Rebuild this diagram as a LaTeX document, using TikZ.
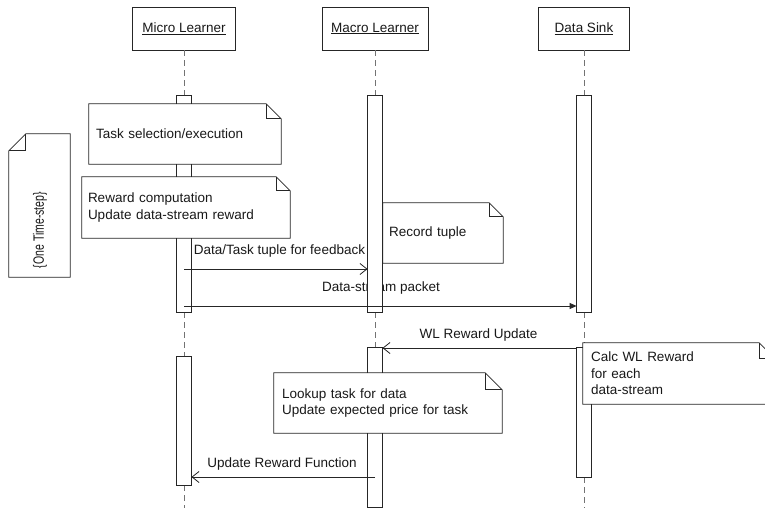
\documentclass[tikz,border=0pt]{standalone}
\usepackage{fontspec}
\setmainfont{Liberation Sans}
\usetikzlibrary{arrows.meta}

\tikzset{
  every node/.style={font=\fontsize{13.5}{16.5}\selectfont, text=black!90},
  head/.style={draw=black!85, line width=0.8pt, fill=white, minimum height=43pt, inner sep=0pt},
  actbar/.style={draw=black!85, line width=0.8pt, fill=white, minimum width=14pt, inner sep=0pt},
  lifeline/.style={draw=black!55, line width=0.8pt, dash pattern=on 6pt off 4pt},
  note/.style={fill=white, inner ysep=0pt, align=left},
  noteline/.style={draw=black!85, line width=0.8pt, line join=miter},
  async/.style={draw=black!85, line width=0.8pt, -{Straight Barb[length=7pt,width=11pt]}},
  sync/.style={draw=black!85, line width=0.8pt, -{Triangle[length=7pt,width=6pt]}},
  msglabel/.style={inner sep=0pt},
}

% outline of a note with its top right corner folded
\newcommand\dogear[2]{%
  \draw[noteline] (#1.north west) -- ([xshift=-#2]#1.north east) -- ([yshift=-#2]#1.north east)
    -- (#1.south east) -- (#1.south west) -- cycle;
  \draw[noteline] ([xshift=-#2]#1.north east) |- ([yshift=-#2]#1.north east);
}

\begin{document}
\begin{tikzpicture}[x=1pt, y=-1pt]
\clip (0,0) rectangle (765,508);
\fill[white] (0,0) rectangle (765,508);

% participants
\node[head, minimum width=103pt] (micro) at (184,28.5) {\underline{Micro Learner}};
\node[head, minimum width=106pt] (macro) at (375,28.5) {\underline{Macro Learner}};
\node[head, minimum width=91pt]  (sink)  at (584,28.5) {\underline{Data Sink}};

% activation bars (geometry only, drawn later)
\path
  node[actbar, draw=none, fill=none, minimum height=216pt] (mi1) at (184,204) {}
  node[actbar, draw=none, fill=none, minimum height=128pt] (mi2) at (184,421) {}
  node[actbar, draw=none, fill=none, minimum height=216pt] (ma1) at (375,204) {}
  node[actbar, draw=none, fill=none, minimum height=159pt] (ma2) at (375,427.5) {}
  node[actbar, draw=none, fill=none, minimum height=216pt] (si1) at (584,204) {}
  node[actbar, draw=none, fill=none, minimum height=129pt] (si2) at (584,412.5) {};

\coordinate (bottom) at (0,508);

% lifelines
\draw[lifeline] (micro.south) -- (mi1.north);
\draw[lifeline] (mi1.south) -- (mi2.north);
\draw[lifeline] (mi2.south) -- (mi2.south |- bottom);
\draw[lifeline] (macro.south) -- (ma1.north);
\draw[lifeline] (ma1.south) -- (ma2.north);
\draw[lifeline] (sink.south) -- (si1.north);
\draw[lifeline] (si1.south) -- (si2.north);
\draw[lifeline] (si2.south) -- (si2.south |- bottom);

% message labels
\node[msglabel] (lDT) at (279.5,251) {Data/Task tuple for feedback};
\node[msglabel] (lDS) at (381,288) {Data-stream packet};
\node[msglabel] (lWL) at (478.5,335) {WL Reward Update};
\node[msglabel] (lUR) at (282,464) {Update Reward Function};

% activation bars
\foreach \b in {mi1,mi2,ma1,ma2,si1,si2}
  \draw[actbar] (\b.north west) rectangle (\b.south east);

% messages
\coordinate (yDT) at (0,269);
\coordinate (yDS) at (0,306);
\coordinate (yWL) at (0,348);
\coordinate (yUR) at (0,477);
\draw[async] (mi1.center |- yDT) -- (ma1.west |- yDT);
\draw[sync]  (mi1.center |- yDS) -- (si1.west |- yDS);
\draw[async] (si2.west |- yWL) -- (ma2.east |- yWL);
\draw[async] (ma2.center |- yUR) -- (mi2.east |- yUR);

% notes
\node[note, inner xsep=7pt, text width=178pt, minimum height=60pt] (task) at (185,134)
  {Task selection/execution};
\dogear{task}{15pt}
\node[note, inner xsep=6pt, text width=196pt, minimum height=61pt] (reward) at (186,207.5)
  {Reward computation\\Update data-stream reward};
\dogear{reward}{14pt}
\node[note, inner xsep=6pt, text width=108pt, minimum height=60pt] (record) at (443,233)
  {Record tuple};
\dogear{record}{14pt}
\node[note, inner xsep=8pt, text width=212pt, minimum height=60pt] (lookup) at (388,403)
  {Lookup task for data\\Update expected price for task};
\dogear{lookup}{17pt}
\node[note, inner xsep=8pt, text width=176pt, minimum height=61pt] (calc) at (679,373.5)
  {Calc WL Reward\\for each\\data-stream};
\dogear{calc}{16pt}

% time-step frame note, folded at the top left
\node[fill=white, inner sep=0pt, minimum width=61pt, minimum height=143pt] (step) at (39.5,205.5) {};
\draw[noteline] ([xshift=17pt]step.north west) -- (step.north east) -- (step.south east)
  -- (step.south west) -- ([yshift=-17pt]step.north west) -- cycle;
\draw[noteline] ([yshift=-17pt]step.north west) -| ([xshift=17pt]step.north west);
\node[rotate=90, inner sep=0pt, font=\fontsize{15}{18}\selectfont] (steptext) at (40,230)
  {\scalebox{0.7}[1]{\{One Time-step\}}};
\end{tikzpicture}
\end{document}
